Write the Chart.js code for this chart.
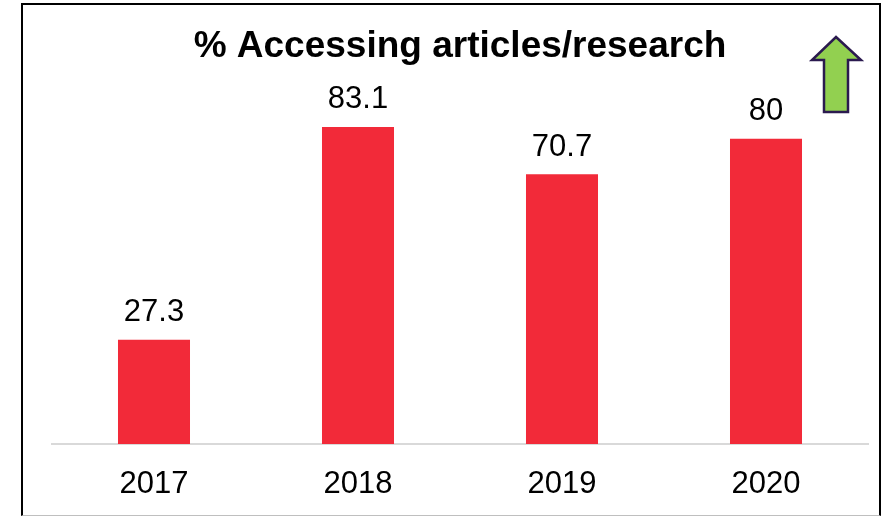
<!DOCTYPE html>
<html lang="en">
<head>
  <meta charset="UTF-8">
  <title>% Accessing articles/research</title>
  <script src="https://cdn.jsdelivr.net/npm/chart.js"></script>
  <style>
    body { margin: 0; background: #fff; }
    #wrap { position: relative; width: 882px; height: 516px; }
    #cadre {
      position: absolute; left: 21px; top: 3px; width: 856px; height: 510px;
      border: 2px solid #000; border-bottom: 1px solid #bfbfbf;
    }
    canvas { position: absolute; left: 0; top: 0; }
  </style>
</head>
<body>
  <div id="wrap">
    <div id="cadre"></div>
    <canvas id="graphique" width="882" height="516"></canvas>
  </div>

  <script>
    const annees = ['2017', '2018', '2019', '2020'];
    const valeurs = [27.3, 83.1, 70.7, 80];
    const titre = '% Accessing articles/research';

    // valeurs au-dessus des barres
    const etiquettes = {
      id: 'etiquettes',
      afterDatasetsDraw(chart) {
        const c = chart.ctx;
        const meta = chart.getDatasetMeta(0);
        c.save();
        c.font = '31px Arial, "Liberation Sans"';
        c.fillStyle = '#000';
        c.textAlign = 'center';
        c.textBaseline = 'middle';
        meta.data.forEach((bar, i) => {
          c.fillText(valeurs[i], bar.x, bar.y - 27);
        });
        c.restore();
      }
    };

    // flèche verte en haut à droite
    const fleche = {
      id: 'fleche',
      afterDraw(chart) {
        const c = chart.ctx;
        c.save();
        c.beginPath();
        c.moveTo(836, 37);
        c.lineTo(861, 60);
        c.lineTo(848, 60);
        c.lineTo(848, 112);
        c.lineTo(824, 112);
        c.lineTo(824, 60);
        c.lineTo(812, 60);
        c.closePath();
        c.fillStyle = '#92D050';
        c.fill();
        c.lineWidth = 2.5;
        c.strokeStyle = '#2B1A4F';
        c.stroke();
        c.restore();
      }
    };

    new Chart(document.getElementById('graphique'), {
      type: 'bar',
      data: {
        labels: annees,
        datasets: [{
          data: valeurs,
          backgroundColor: '#F22A39',
          categoryPercentage: 1,
          barPercentage: 0.353
        }]
      },
      options: {
        responsive: false,
        animation: false,
        layout: { padding: { left: 52, right: 14, top: 0, bottom: 0 } },
        plugins: {
          legend: { display: false },
          tooltip: { enabled: false },
          title: {
            display: true,
            text: titre,
            color: '#000',
            font: { family: 'Arial, "Liberation Sans"', size: 37, weight: 'bold' },
            padding: { top: 25, bottom: -7 }
          }
        },
        scales: {
          y: { display: false, min: 0, max: 100 },
          x: {
            grid: { display: false, drawTicks: false },
            border: { color: '#d9d9d9', width: 2 },
            ticks: {
              color: '#000',
              padding: 22,
              font: { family: 'Arial, "Liberation Sans"', size: 31 }
            },
            afterFit(scale) { scale.height = 72; }
          }
        }
      },
      plugins: [etiquettes, fleche]
    });
  </script>
</body>
</html>
